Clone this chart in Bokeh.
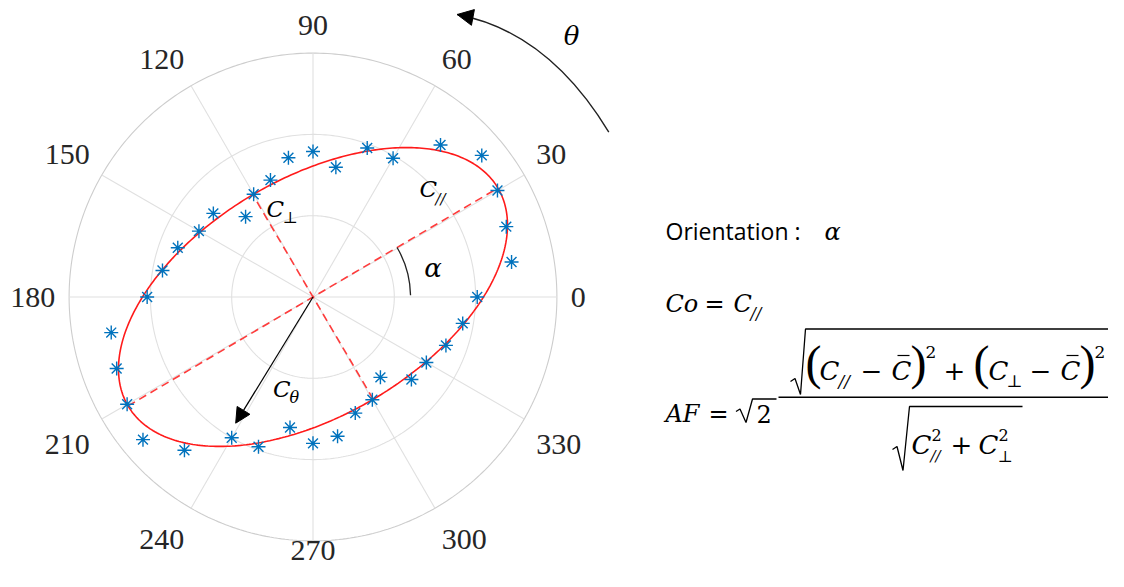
import numpy as np
from bokeh.plotting import figure
from bokeh.models import Arrow, NormalHead
from bokeh.core.properties import value
from bokeh.embed import file_html
from bokeh.resources import INLINE

# ---------------- data ----------------
theta_deg = list(range(0, 360, 10))
c_theta = [2.02, 2.48, 2.53, 2.62, 2.71, 2.44, 1.97, 1.95, 1.62, 1.79,
           1.74, 1.53, 1.46, 1.29, 1.60, 1.62, 1.77, 1.88, 2.04, 2.52,
           2.57, 2.64, 2.73, 2.46, 2.00, 1.96, 1.63, 1.80, 1.74, 1.52,
           1.46, 1.29, 1.58, 1.61, 1.74, 1.87]
r_ticks = [1, 2, 3]
theta_ticks = [0, 30, 60, 90, 120, 150, 180, 210, 240, 270, 300, 330]
theta_labels = ["0", "30", "60", "90", "120", "150", "180", "210", "240", "270", "300", "330"]
alpha_deg = 30.5      # orientation of the fitted ellipse
c_par = 2.64          # C_// (semi-major)
c_perp = 1.46         # C_perp (semi-minor)
c_vec_deg = 238.5     # direction of the C_theta arrow
c_vec_len = 1.82      # length of the C_theta arrow

# ---------------- layout helpers (pixels -> data) ----------------
CX, CY, S = 312.5, 296.5, 81.3
W, H = 1108, 571


def X(px):
    return (px - CX) / S


def Y(py):
    return (CY - py) / S


p = figure(width=W, height=H, x_range=(X(0), X(W)), y_range=(Y(H), Y(0)),
           output_backend="svg", toolbar_location=None, min_border=0,
           x_axis_type=None, y_axis_type=None)
p.grid.visible = False
p.outline_line_color = None
p.background_fill_color = "white"
p.border_fill_color = "white"

rmax = max(r_ticks)
# grid circles
tt = np.linspace(0, 2 * np.pi, 400)
for r in r_ticks:
    col = "#cdcdcd" if r == rmax else "#e0e0e0"
    p.line(r * np.cos(tt), r * np.sin(tt), line_color=col, line_width=1.1)
# spokes
for th in theta_ticks:
    a = np.radians(th)
    p.line([0, rmax * np.cos(a)], [0, rmax * np.sin(a)], line_color="#e0e0e0", line_width=1.1)

# angle labels: anchored just outside the outer circle, aligned away from it
align_map = {0: ("left", 0), 30: ("left", 14), 60: ("left", 14),
             90: ("center", 14), 120: ("right", 14), 150: ("right", 14),
             180: ("right", 0), 210: ("right", -19), 240: ("right", -19),
             270: ("center", 4), 300: ("left", -19), 330: ("left", -19)}
r_lab = 3.17
for th, lab in zip(theta_ticks, theta_labels):
    a = np.radians(th)
    al, dy = align_map[th]
    p.text(x=[r_lab * np.cos(a)], y=[r_lab * np.sin(a) + dy / S], text=[lab],
           text_font=value("Liberation Serif"), text_font_size="30px",
           text_color="#262626", text_align=al, text_baseline="middle")

# fitted ellipse
al_r = np.radians(alpha_deg)
t = np.linspace(0, 2 * np.pi, 400)
ex = c_par * np.cos(t) * np.cos(al_r) - c_perp * np.sin(t) * np.sin(al_r)
ey = c_par * np.cos(t) * np.sin(al_r) + c_perp * np.sin(t) * np.cos(al_r)
p.line(ex, ey, line_color="#ff1a1a", line_width=1.6)

# dashed axes of the ellipse
p.line([-c_par * np.cos(al_r), c_par * np.cos(al_r)], [-c_par * np.sin(al_r), c_par * np.sin(al_r)],
       line_color="#ff3b3b", line_width=1.6, line_dash="8 5")
bp = al_r + np.pi / 2
p.line([-c_perp * np.cos(bp), c_perp * np.cos(bp)], [-c_perp * np.sin(bp), c_perp * np.sin(bp)],
       line_color="#ff3b3b", line_width=1.6, line_dash="8 5")

# measured points
th_r = np.radians(theta_deg)
px_ = np.array(c_theta) * np.cos(th_r)
py_ = np.array(c_theta) * np.sin(th_r)
p.scatter(px_, py_, marker="asterisk", size=14, line_color="#0072BD", line_width=1.4)

# alpha arc
p.arc(x=0, y=0, radius=1.2, start_angle=np.radians(1), end_angle=np.radians(alpha_deg),
      line_color="#222222", line_width=1.3)

# C_theta arrow
cv = np.radians(c_vec_deg)
p.add_layout(Arrow(x_start=0, y_start=0, x_end=c_vec_len * np.cos(cv), y_end=c_vec_len * np.sin(cv),
                   line_color="black", line_width=1.2,
                   end=NormalHead(size=15, fill_color="black", line_color="black")))

# theta rotation arrow (annotation)
p.quadratic(x0=[X(608.3)], y0=[Y(131.7)], x1=[X(456.7)], y1=[Y(14)], cx=[X(547.5)], cy=[Y(31.2)],
            line_color="#222222", line_width=1.4)
p.add_layout(Arrow(x_start=X(462), y_start=Y(15), x_end=X(456.7), y_end=Y(14),
                   line_color="black", line_width=1,
                   end=NormalHead(size=16, fill_color="black", line_color="black")))

MATH = "DejaVu Serif"
KMID = {"DejaVu Serif": 0.346, "Liberation Serif": 0.3375, "Open Sans": 0.388}


def txt(s, px, py, size, style="italic", font=MATH, color="black", align="left"):
    # py is the wanted alphabetic baseline; draw with a middle baseline
    ya = py - KMID[font] * size
    p.text(x=[X(px)], y=[Y(ya)], text=[s], text_font=value(font), text_font_size=f"{size}px",
           text_font_style=style, text_color=color, text_align=align, text_baseline="middle")


def seg(pts, w=1.3):
    p.line([X(a) for a, b in pts], [Y(b) for a, b in pts], line_color="black", line_width=w)


# labels inside the polar plot
p.text(x=[X(571)], y=[Y(35)], text=["θ"], text_font=value(MATH), text_font_size="26px",
       text_font_style="italic", text_align="center", text_baseline="middle")
p.text(x=[X(432.5)], y=[Y(267.5)], text=["α"], text_font=value(MATH), text_font_size="26px",
       text_font_style="italic", text_align="center", text_baseline="middle")
txt("C", 266, 216.7, 23)
txt("⊥", 282, 223, 16, style="normal")
txt("C", 419, 196.7, 23)
txt("//", 435, 204, 15)
txt("C", 272.5, 396.7, 23)
txt("θ", 289, 402.5, 16)

# right-hand text
txt("Orientation :", 665, 239.5, 23, style="normal", font="Open Sans")
txt("α", 824, 239.5, 24)

# Co = C//
txt("Co", 665, 311.7, 24)
txt("=", 704, 311.7, 24, style="normal")
txt("C", 733, 311.7, 24)
txt("//", 750, 318.5, 16)

# AF = sqrt(2) * fraction
txt("AF", 665, 421.7, 24)
txt("=", 708, 421.7, 24, style="normal")
seg([(735.5, 411), (739.5, 408.5), (745.5, 422), (752, 398.5), (776, 398.5)])
txt("2", 756, 421.7, 24, style="normal")
seg([(778, 396.7), (1124, 396.7)], w=1.4)

# numerator
seg([(790, 381), (794.5, 378), (800, 394), (805, 328.5), (1124, 328.5)])
nb = 379
PAR = "Liberation Serif"
txt("(", 805, nb - 1, 48, style="normal", font=PAR)
txt("C", 819, nb, 26)
txt("//", 838, nb + 7, 17)
txt("−", 860, nb, 26, style="normal")
txt("C", 891, nb, 26)
seg([(897, 355), (909, 355)], w=1.2)
txt(")", 910, nb - 1, 48, style="normal", font=PAR)
txt("2", 925, nb - 22, 17, style="normal")
txt("+", 943, nb, 26, style="normal")
txt("(", 973, nb - 1, 48, style="normal", font=PAR)
txt("C", 988, nb, 26)
txt("⊥", 1006, nb + 7, 17, style="normal")
txt("−", 1029, nb, 26, style="normal")
txt("C", 1060, nb, 26)
seg([(1066, 355), (1078, 355)], w=1.2)
txt(")", 1079, nb - 1, 48, style="normal", font=PAR)
txt("2", 1094, nb - 22, 17, style="normal")

# denominator
seg([(892, 449), (896.5, 446), (902.5, 470), (909, 406), (1022, 406)])
db = 453
txt("C", 911, db, 26)
txt("2", 931, db - 13, 16, style="normal")
txt("//", 930, db + 8, 15)
txt("+", 950, db, 26, style="normal")
txt("C", 978, db, 26)
txt("2", 998, db - 13, 16, style="normal")
txt("⊥", 997, db + 9, 16, style="normal")

open("out.html", "w").write(file_html(p, INLINE))
